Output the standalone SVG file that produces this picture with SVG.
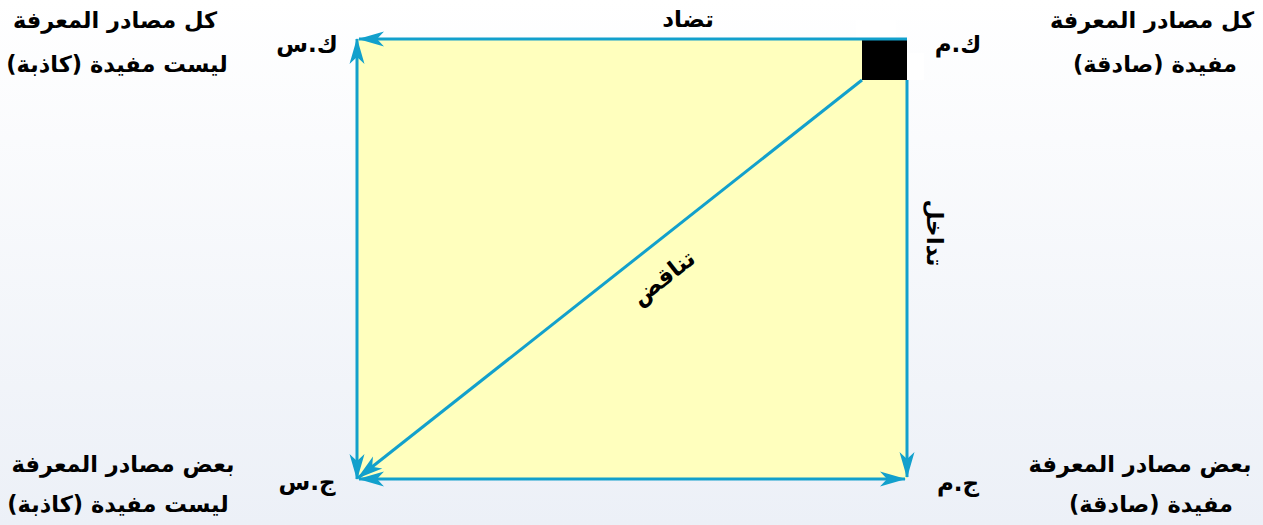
<svg xmlns="http://www.w3.org/2000/svg" width="1263" height="525" viewBox="0 0 1263 525">
<defs>
<linearGradient id="bg" x1="0" y1="0" x2="0" y2="1">
<stop offset="0" stop-color="#ffffff"/>
<stop offset="1" stop-color="#ecf0f7"/>
</linearGradient>
<marker id="ah" viewBox="-27 -8 29 16" refX="0" refY="0" markerWidth="29" markerHeight="16" markerUnits="userSpaceOnUse" orient="auto-start-reverse">
<path d="M1,0 L-25,-7.5 L-18,0 L-25,7.5 Z" fill="#12a0cc"/>
</marker>
</defs>
<style>
text{font-family:"DejaVu Sans",sans-serif;font-weight:bold;fill:#000;text-anchor:middle;direction:rtl}
.c{font-size:22.5px}
.l{font-size:23px}
.conn line{stroke:#12a0cc;stroke-width:3;fill:none}
</style>
<rect x="0" y="0" width="1263" height="525" fill="url(#bg)"/>
<g id="square">
<rect x="357" y="39" width="550" height="440" fill="#ffffbe"/>
<rect x="856" y="20" width="40" height="19" fill="#ffffff"/>
<rect x="907" y="53" width="17" height="27" fill="#ffffff"/>
<rect x="862" y="39" width="45" height="41" fill="#000000"/>
</g>
<g class="conn" id="connectors">
<line x1="907" y1="39" x2="359" y2="39" marker-end="url(#ah)"/>
<line x1="357" y1="39" x2="357" y2="479" marker-start="url(#ah)" marker-end="url(#ah)"/>
<line x1="907" y1="80" x2="907" y2="477" marker-end="url(#ah)"/>
<line x1="359" y1="479" x2="905" y2="479" marker-start="url(#ah)" marker-end="url(#ah)"/>
<line x1="862" y1="80" x2="358" y2="478" marker-end="url(#ah)"/>
</g>
<g id="label-contrary"><text class="l" x="688" y="27">تضاد</text></g>
<g id="label-contradiction"><text class="l" x="0" y="0" font-size="26" transform="translate(668,284) rotate(-38)">تناقض</text></g>
<g id="label-subalternation"><text class="l" x="0" y="0" font-size="26" transform="translate(927,233) rotate(90)">تداخل</text></g>
<g id="node-km">
<text class="l" x="958" y="52" letter-spacing="2">ك.م</text>
<text class="c" x="1152" y="28">كل مصادر المعرفة</text>
<text class="c" x="1155" y="72">مفيدة (صادقة)</text>
</g>
<g id="node-ks">
<text class="l" x="307" y="52" letter-spacing="2">ك.س</text>
<text class="c" x="115" y="28">كل مصادر المعرفة</text>
<text class="c" x="117" y="72">ليست مفيدة (كاذبة)</text>
</g>
<g id="node-js">
<text class="l" x="307" y="490" letter-spacing="2">ج.س</text>
<text class="c" x="123" y="472">بعض مصادر المعرفة</text>
<text class="c" x="118" y="512">ليست مفيدة (كاذبة)</text>
</g>
<g id="node-jm">
<text class="l" x="958" y="491" letter-spacing="2">ج.م</text>
<text class="c" x="1140" y="472">بعض مصادر المعرفة</text>
<text class="c" x="1151" y="512">مفيدة (صادقة)</text>
</g>
</svg>
